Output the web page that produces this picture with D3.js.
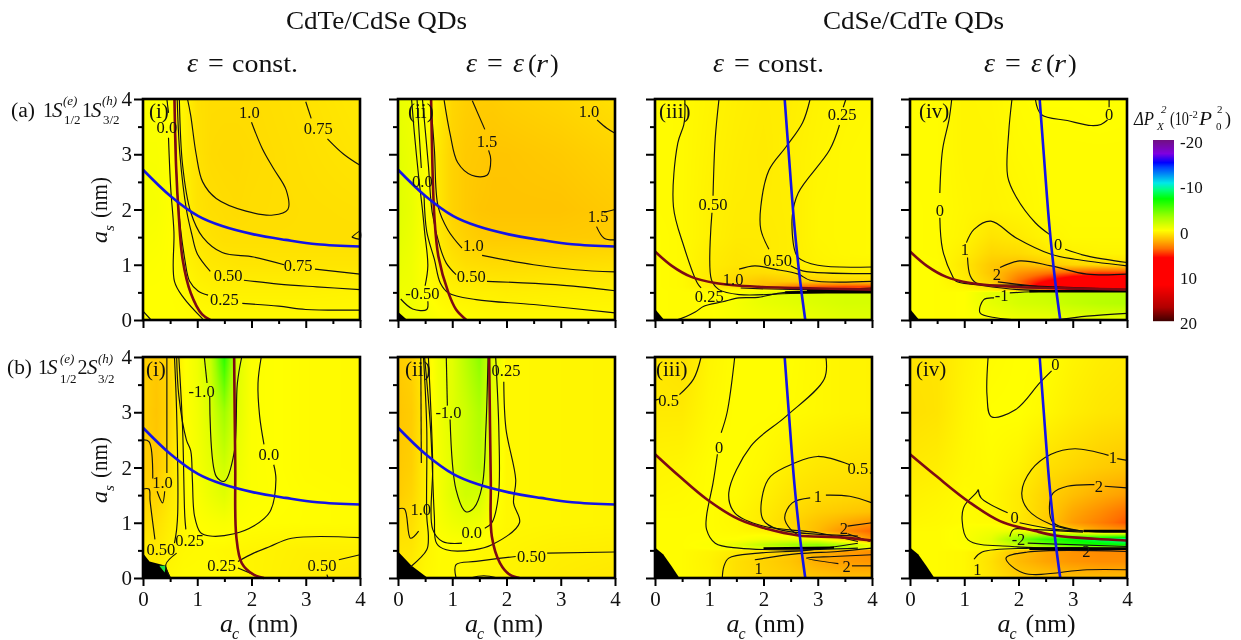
<!DOCTYPE html>
<html><head><meta charset="utf-8">
<script src="https://cdnjs.cloudflare.com/ajax/libs/d3/7.8.5/d3.min.js"></script>
<style>
html,body{margin:0;padding:0;background:#fff;overflow:hidden}
#wrap{position:relative;width:1241px;height:640px;overflow:hidden}
canvas,svg{position:absolute;left:0;top:0}
text{font-family:"Liberation Serif","Times New Roman",serif;fill:#111}
</style></head><body><div id="wrap"></div>
<script>
// ---------- colour scale ----------
const colorValues=[-20,-17,-15,-14,-10.5,-9,-7,-3,-2,-1,0,1,2,4,6,12,17,20];
const colorStops=["#701080","#8000e0","#0000ff","#0040ff","#00e8e8","#00ff80","#00ff00","#a0ff00","#c0ff00","#e0ff00","#ffff00","#ffdd00","#ffbb00","#ff7000","#ff0000","#ff0000","#b00000","#400000"];
const colorbarTicks=[-20,-10,0,10,20];

// ---------- field grids (rows run from a_s = 4 down to a_s = 0) ----------
const gridXA=[0,.25,.5,.75,1,1.25,1.5,1.75,2,3,4];
const gridYA=[4,3,2,1.5,1,.5,0];
const gridXB=[0,.5,1,1.5,2,2.5,3,3.5,4];
const gridYB=[4,3,2,1.5,1.2,1,.85,.7,.6,.53,.5,.47,.3,0];

const fieldAi=[
[-.1,-.1,-.05,.3,.9,1,1,1,1,.85,.65],
[-.2,-.2,-.05,.35,.85,1.05,1.1,1.1,1.05,.9,.75],
[-.3,-.25,-.05,.4,.8,.95,1,1.05,1,.95,.9],
[-.2,-.15,0,.4,.7,.85,.95,.95,.95,.95,.95],
[-.1,-.05,0,.3,.5,.65,.7,.75,.75,.75,.75],
[0,0,0,.1,.3,.35,.4,.4,.4,.4,.35],
[.02,0,0,0,.05,.1,.12,.15,.15,.15,.15]];
const fieldAii=[
[-.7,-.5,-.2,.5,1.2,1.4,1.5,1.5,1.4,1.2,.9],
[-.9,-.6,-.1,.7,1.3,1.55,1.6,1.7,1.7,1.55,1.3],
[-1,-.7,-.1,.7,1.3,1.55,1.7,1.75,1.75,1.75,1.55],
[-.9,-.6,-.1,.6,1.1,1.35,1.5,1.55,1.55,1.55,1.5],
[-.7,-.5,0,.45,.75,.95,1,1.05,1.05,1,.9],
[-.5,-.45,-.05,.2,.35,.4,.45,.45,.5,.45,.4],
[-.5,-.4,-.3,-.1,0,.05,.1,.15,.15,.15,.12]];
const fieldBi=[
[1.3,1.6,1.1,.1,-.5,-1.8,-6,-1,-.1,.1,.15],
[1.3,1.7,1.2,.1,-.4,-1.2,-3,-.9,-.1,.1,.15],
[1.4,1.6,.9,.1,-.3,-.8,-1.5,-.5,-.1,.1,.15],
[1.3,1.3,.7,.15,-.15,-.6,-1,-.3,-.1,.05,.1],
[1,.9,.5,.2,0,-.1,-.2,-.05,0,.05,.1],
[.5,.6,.35,.2,.15,.15,.2,.25,.3,.45,.45],
[.5,.5,.2,.1,.1,.1,.15,.2,.3,.5,.7]];
const fieldBii=[
[1.5,1.3,.5,-.5,-.9,-2.2,-3.5,-1,.2,.25,.3],
[1.7,1.5,.6,-.4,-1,-1.6,-2.5,-.8,.2,.25,.3],
[1.6,1.4,.5,-.3,-.9,-1.6,-2.2,-.5,.2,.25,.3],
[1.5,1.2,.5,-.3,-1,-1.5,-1.4,-.2,.2,.25,.3],
[1,.95,.4,-.2,-.5,-.7,-.5,0,.2,.25,.3],
[.75,.7,.3,.1,.1,.1,.2,.25,.3,.45,.5],
[.6,.5,.2,.1,.15,.2,.25,.3,.35,.55,.7]];
const fieldAiii=[
[.1,.15,.3,.45,.55,.5,.35,.25,.2],
[.1,.15,.35,.5,.6,.45,.3,.2,.15],
[.1,.15,.4,.55,.55,.5,.25,.2,.15],
[.05,.15,.4,.6,.6,.5,.25,.2,.15],
[.05,.15,.5,.7,.6,.5,.3,.2,.15],
[.05,.15,.55,.75,.7,.5,.35,.3,.3],
[.05,.15,.6,.95,1,.8,.7,.55,.5],
[.05,.15,.6,1.2,1.7,1.5,1.4,1.2,1.1],
[.05,.15,.5,1,2,3.5,4.5,5,5],
[.05,.1,.2,.1,-.1,-.3,1,3,4],
[.05,.1,.1,0,-.6,-.8,-.9,-1,-1.1],
[.05,.1,.05,-.1,-.8,-1,-1.2,-1.3,-1.3],
[.05,.1,.05,-.3,-.7,-.9,-1.1,-1.3,-1.3],
[.05,.1,.05,-.2,-.3,-.4,-.7,-.9,-1]];
const fieldAiv=[
[.05,.1,.3,.25,.1,0,0,-.05,0],
[.1,.1,.3,.3,.15,.1,.1,.1,.1],
[.05,.1,.25,.35,.25,.1,.1,.1,.1],
[.05,.1,.3,.8,.6,.3,.15,.15,.15],
[.05,.1,.5,1.2,1.1,.7,.4,.3,.3],
[0,.05,.7,1.6,1.9,1.6,1.2,1,.9],
[0,.05,.6,1.7,3,3.8,4.5,5,5],
[0,.05,.5,1.4,4,6,8,9,9],
[0,.05,.3,1,3.5,8,10,11,11],
[0,.05,.1,.3,1,2,5,9,10],
[0,.05,0,-.8,-1.3,-1.6,-1.8,-2,-2.2],
[0,.05,0,-.9,-1.4,-1.7,-2,-2.2,-2.4],
[0,.05,0,-.8,-1.3,-1.5,-1.9,-2.2,-2.4],
[0,.05,0,-.2,-.5,-.6,-.7,-.8,-.7]];
const fieldBiii=[
[.7,.9,.3,.05,.05,.05,.2,.3,.35],
[.6,.6,.2,.05,.05,.1,.2,.3,.35],
[.3,.25,.05,.05,.2,.5,.7,.8,.9],
[.2,.15,.05,.1,.4,.8,1,1.1,1.2],
[.1,.1,.05,.2,.55,1,1.4,1.6,1.8],
[.05,.05,.05,.2,.6,1.2,1.8,2.4,3],
[.05,.05,.05,.15,.4,1,2,3.2,4.2],
[.05,.05,0,0,-.4,-.6,-.2,1.2,3],
[.05,.05,-.1,-.8,-2,-3,-3.5,-2.2,-.5],
[.05,.05,0,-.3,-1,-1.5,-2.5,-2,0],
[.05,.1,.2,.4,.8,1.2,1.6,2.4,3],
[.05,.1,.3,.6,1,1.5,2.2,2.8,3.2],
[.05,.1,.35,.9,1.3,1.7,2.4,2.8,3],
[.05,.1,.3,.9,1.2,1.4,1.7,1.9,1.9]];
const fieldBiv=[
[.8,.8,.4,.1,0,0,.3,.5,.6],
[.9,.8,.3,0,-.02,.2,.5,.7,.8],
[.6,.5,.2,.1,.35,.9,1.2,1.5,1.7],
[.4,.3,.1,.2,.6,1.3,1.9,2.4,2.8],
[.3,.2,.05,.2,.6,1.4,2.5,3.2,4],
[.2,.15,.05,.1,.6,1.5,2.8,3.6,4.5],
[.1,.1,-.1,-.4,-.6,0,1.5,2.5,3],
[.1,.1,-.1,-.8,-3.5,-6,-7,-8.5,-10],
[.1,.1,-.05,-.5,-2,-4,-6,-6.5,-7],
[.1,.1,0,-.2,-.5,-1,-1,-1,-1],
[.1,.1,.1,.4,1.5,2.4,3,3.2,3.2],
[.1,.1,.2,.7,1.8,2.6,3.1,3.3,3.3],
[.1,.1,.2,.9,2,2.6,3,3.2,3.2],
[.1,.1,.2,.8,1.4,1.6,1.8,1.9,1.9]];

// ---------- blue and dark red lines ----------
const blueCdTe=[[0,2.72],[.51,2.24],[1.02,1.88],[1.46,1.7],[2.04,1.55],[2.63,1.45],[3.21,1.37],[4,1.33]];
const blueCdSe=[[2.39,4],[2.46,3.08],[2.57,1.7],[2.68,.67],[2.77,0]];
const redAi=[[.58,4],[.61,2.78],[.66,1.88],[.73,1.1],[.88,.49],[1.09,.1],[1.24,0]];
const redAii=[[.61,4],[.635,2.78],[.67,1.88],[.745,1.15],[.93,.49],[1.07,.19],[1.26,0]];
const redAiii=[[0,1.24],[.31,.98],[.67,.78],[1.11,.67],[1.91,.6],[2.64,.58],[4,.55]];
const redBi=[[1.68,4],[1.7,2.08],[1.72,.75],[1.82,.27],[2.04,.06],[2.23,0]];
const redBii=[[1.68,4],[1.71,1.78],[1.73,.75],[1.88,.27],[2.06,.06],[2.24,0]];
const redBiii=[[0,2.24],[.45,1.84],[.96,1.42],[1.55,1.06],[2.06,.89],[2.64,.77],[3.37,.74],[4,.68]];
const redBiv=[[0,2.24],[.49,1.84],[1.07,1.39],[1.66,1.03],[2.31,.85],[2.68,.77],[3.4,.71],[4,.68]];

// ---------- black corners ----------
const cornerAii=[[0,0],[0,.15],[.17,0]];
const cornerAiii=[[0,0],[0,.2],[.17,0]];
const cornerBi=[[0,0],[0,.45],[.12,.3],[.42,.22],[.51,0]];
const cornerBii=[[0,0],[0,.48],[.25,.22],[.55,0]];
const cornerBiii=[[0,0],[0,.55],[.15,.43],[.3,.22],[.45,0]];
const speckBi=[[.3,.22],[.42,.22],[.4,.1]];

// ---------- contour lines ----------
const contoursAi=[
[[.44,4],[.47,3.75]],[[.47,3.3],[.51,2.4],[.57,1.6],[.58,.7],[.75,.4],[1.1,.02]],
[[.58,4],[.6,3.3],[.64,2.2],[.77,1.1],[.86,.7],[1.02,.52],[1.2,.45]],[[1.83,.3],[2.5,.25],[3,.19],[4,.18]],
[[.63,4],[.68,3],[.8,2],[.9,1.55],[1,1.2],[1.24,.88]],[[1.86,.72],[2.5,.65],[3.2,.6],[4,.55]],
[[.67,4],[.73,2.8],[.88,1.95],[1.1,1.5],[1.46,1.22],[2.04,1.14],[2.6,1]],[[3.17,.92],[4,.83]],
[[.82,4],[.88,3.7],[.98,3],[1.1,2.5],[1.35,2.2],[1.9,1.97],[2.4,1.9],[2.67,2],[2.64,2.35],[2.4,2.75],[2.2,3.1],[2,3.58]],
[[3,3.95],[3.1,3.65]],[[3.4,3.28],[3.7,3],[4,2.8]],
[[3.85,1.5],[4,1.6],[4,1.47],[3.85,1.5]],[[0,.16],[.15,0]]];
const labelsAi=[["0.0",.44,3.48],["1.0",1.96,3.75],["0.75",3.23,3.46],["0.50",1.57,.81],["0.75",2.86,.98],["0.25",1.5,.37]];

const contoursAii=[
[[.25,4],[.3,3.4],[.38,2.6],[.45,2],[.49,1.6],[.55,.98],[.5,.62]],
[[.05,.38],[.27,.2],[.53,.19],[.55,.34]],
[[.35,4],[.43,2.75]],[[.48,2.25],[.53,1.6],[.67,1.1],[.78,.67],[.93,.49],[1.44,.37],[2.5,.28],[4,.13]],
[[.45,4],[.56,2.8],[.63,1.95],[.78,1.3],[.89,1.03],[1.07,.82]],[[1.64,.7],[2.9,.64],[4,.53]],
[[.6,4],[.67,3.1],[.74,2.05],[.92,1.63],[1.18,1.3]],[[1.55,1.17],[2.5,1],[3.27,.91],[4,.87]],
[[.85,3.98],[.96,3.37],[1.1,2.85],[1.36,2.62],[1.64,2.62],[1.71,2.9],[1.67,3.07]],[[1.6,3.45],[1.37,3.97]],
[[3.67,3.62],[3.85,3.47],[4,3.38]],[[3.8,1.95],[4,2]],[[3.66,1.69],[3.8,1.48],[4,1.45]]];
const labelsAii=[["0.0",.45,2.51],["1.5",1.64,3.23],["1.0",3.52,3.78],["1.5",3.69,1.87],["1.0",1.39,1.34],["0.50",1.35,.78],["-0.50",.45,.48]];

const contoursAiii=[
[[.55,4],[.55,3.7],[.53,3.53],[.42,3.2],[.34,2.05],[.53,1.34],[.78,.67],[.85,.58]],
[[.23,0],[.42,.01],[.75,.15],[.9,.25],[1.25,.33],[1.55,.4],[1.9,.41],[2.4,.5],[4,.5]],
[[1.18,4],[1.11,3.28],[1.07,2.25]],[[1.05,1.94],[1.04,.73],[1.18,.55],[1.55,.46],[2.5,.48],[4,.52]],
[[2.86,4],[2.72,3.57],[2.42,3.14],[2.1,2.71],[1.95,2.05],[1.95,1.64],[2.1,1.28]],
[[2.5,.98],[2.72,.89],[4,.84]],
[[3.52,4],[3.47,3.85]],[[3.4,3.53],[3.22,3.08],[2.64,2.3],[2.53,1.88],[2.57,1.28],[2.64,1.13],[3,.99],[4,.96]],
[[1.55,.92],[1.84,.98],[2.2,.92],[2.64,.83],[2.86,.72],[4,.7]],
[[1.58,.58],[2.64,.55],[4,.58]]];
const labelsAiii=[["0.25",3.45,3.72],["0.50",1.07,2.09],["0.50",2.26,1.08],["1.0",1.44,.73],["0.25",1,.42]];
const bandAiii=[[[2.4,.5],[4,.5]],[[2.8,.53],[4,.53]]];

const contoursAiv=[
[[.77,4],[.72,3.63],[.6,3.08],[.55,2.3]],[[.55,1.85],[.6,1.28],[.78,.8],[.85,.7],[1.22,.64],[2,.55],[4,.53]],
[[1.88,4],[1.82,3.4],[1.8,2.6],[1.95,2.24],[2.31,1.76],[2.57,1.55]],[[2.86,1.28],[3.26,1.16],[4,1.04]],
[[2.31,4],[2.42,3.72],[2.9,3.61],[3.34,3.52],[3.52,3.54],[3.64,3.62]],[[3.67,4],[3.67,3.85]],
[[1.04,1.4],[1.18,1.64],[1.49,1.79],[1.95,1.49],[2.6,1.19],[3.04,1.1],[4,.98]],
[[1.06,1.13],[1.11,.8],[1.22,.67],[1.95,.63],[4,.55]],
[[1.66,.95],[2.02,1.07],[2.6,.98],[3.26,.83],[4,.83]],
[[1.62,.69],[2.68,.58],[4,.55]],
[[1.84,.49],[2.5,.52],[4,.52]],
[[1.55,.4],[1.36,.37],[1.29,.13],[1.58,.04],[2.68,.01],[3.26,.07],[4,.12]]];
const labelsAiv=[["0",3.67,3.72],["0",.55,1.98],["0",2.73,1.37],["1",1.01,1.28],["2",1.6,.83],["-1",1.69,.45]];
const bandAiv=[[[2.2,.52],[4,.52]]];

const contoursBi=[
[[0,2.5],[.11,2.47],[.18,1.8]],[[0,1.61],[.11,1.61],[.13,1.4],[.22,.7]],[[.26,1.57],[.36,1.36],[.4,1.57]],
[[.44,4],[.44,1.9]],
[[.58,4],[.62,3],[.64,1.18],[.62,.88],[.58,.63]],[[.62,.45],[.42,.24],[.51,0]],
[[.66,4],[.73,2.7],[.77,1.12],[.79,.88]],
[[.62,4],[.66,3.3],[.8,2.5],[.88,2.3],[.91,1.78],[.95,1.12],[1.06,.82],[1.24,.76],[1.68,.8],[2.04,.94],[2.34,1.2],[2.45,1.78],[2.41,2.05]],
[[2.23,2.42],[2.15,2.93],[2.12,3.53],[2.18,4]],
[[1.13,4],[1.18,3.53]],[[1.23,3.29],[1.35,1.84],[1.5,1.75],[1.68,2.27],[1.74,3.53],[1.82,4]],
[[1.75,.3],[2.04,.45],[2.34,.57],[2.74,.72],[4,.73]],[[1.75,.18],[2.19,0]],
[[3.39,.06],[3.41,0]],[[3.61,.33],[4,.42]]];
const labelsBi=[["-1.0",1.08,3.37],["0.0",2.32,2.24],["1.0",.36,1.72],["0.50",.33,.51],["0.25",.86,.68],["0.25",1.45,.23],["0.50",3.3,.23]];

const contoursBii=[
[[.42,4],[.43,2.08]],
[[.47,4],[.53,2.7],[.53,1.12],[.56,.75],[.53,.51],[.23,.2]],
[[.49,4],[.6,2.7],[.67,1.12],[.71,.63],[.89,.51],[1.4,.51],[1.73,.6],[2.24,1],[2.13,1.36],[2.17,1.78],[1.99,2.7],[1.95,3.55]],
[[.56,4],[.64,2.08],[.64,.88],[.82,.66],[1.18,.63]],[[1.6,.9],[1.73,1],[1.85,1.48],[1.86,2.63],[1.8,4]],
[[.89,4],[.91,3.12]],[[.96,2.87],[1.07,1.6],[1.25,1.2],[1.4,1.27],[1.55,1.66],[1.62,2.7],[1.66,4]],
[[0,1.25],[.12,1.25],[.23,.72],[.38,.85]],
[[1.07,0],[1.07,.24],[1.44,.3],[2.17,.39]],[[2.75,.45],[4,.47]],
[[1.33,0],[1.58,.04],[1.84,0]]];
const labelsBii=[["0.25",1.99,3.75],["-1.0",.93,3],["1.0",.42,1.24],["0.0",1.36,.83],["0.50",2.46,.39]];

const contoursBiii=[
[[.85,4],[.71,3.6],[.45,3.32]],[[.01,3.22],[.08,3.24]],
[[1.47,4],[1.33,3],[1.22,2.63]],[[1.15,2.24],[1.07,1.72],[.95,1.12],[.95,.88],[1.11,.63],[1.55,.54],[2.5,.51],[3.74,.54]],
[[3.15,4],[3.12,3.6],[2.42,2.93],[1.77,2.39],[1.36,1.54],[1.47,1.18],[1.99,.94],[3,.82],[3.74,.66]],
[[3.96,1.9],[4,1.9]],[[3.59,2.05],[3,2.2],[2.57,2.08],[2.13,1.84],[1.99,1.54],[1.99,1.06],[2.28,.88],[3.74,.76]],
[[2.86,1.45],[2.53,1.36],[2.39,1.09],[2.5,.88],[2.68,.76]],[[3.15,1.5],[3.59,1.48],[4,1.36]],
[[3.55,.94],[4,1]],[[3.55,.8],[3.96,.66]],
[[1.24,0],[1.27,.21],[1.36,.36],[1.91,.45],[2.79,.5],[3.74,.63]],
[[1.84,.33],[2.64,.44],[3.37,.48],[4,.54]],
[[4,.42],[3.3,.39],[2.79,.36],[3.38,.26]],[[3.63,.22],[4,.22]]];
const labelsBiii=[["0.5",.25,3.22],["0",1.18,2.36],["0.5",3.74,1.98],["1",3,1.48],["2",3.48,.9],["2",3.53,.21],["1",1.91,.18]];
const bandBiii=[[[2,.535],[3.3,.55]]];

const contoursBiv=[
[[1.44,4],[1.42,3.3],[1.5,2.92],[1.95,3.05],[2.39,3.53],[2.61,3.75]],
[[3.66,2.22],[3.04,2.34],[2.6,2.24],[2.24,1.96],[2.06,1.54],[2.17,1.24],[2.6,.97],[3.18,.85],[4,.83]],[[3.82,2.16],[4,2.13]],
[[3.4,1.69],[2.9,1.66],[2.64,1.54],[2.57,1.3],[2.64,1],[3.18,.85]],[[3.59,1.66],[4,1.63]],
[[1.26,1.6],[1.22,1.54],[1,1.3],[.96,1.06],[1.07,.69],[1.88,.57],[3.19,.54]],
[[1.26,1.6],[1.31,1.45],[1.8,1.18]],[[2.02,1],[2.68,.88],[3.19,.85]],
[[1.84,.75],[1.91,.88],[2.17,.88],[3.19,.83]],[[2.17,.63],[4,.57]],
[[1.18,.34],[1.33,.47],[2.24,.54],[4,.54]],
[[4,.15],[3.26,.15],[2.09,.09],[1.77,.36],[2.17,.47],[4,.48]]];
const labelsBiv=[["0",2.68,3.87],["1",3.74,2.18],["2",3.48,1.65],["0",1.93,1.09],["-2",2,.69],["2",3.25,.48],["1",1.24,.15]];
const bandBiv=[[[3.2,.85],[4,.85]],[[2.2,.53],[4,.53]]];

// ---------- layout ----------
const axisDomain=[0,4], majorTicks=[0,1,2,3,4], minorTicks=[.5,1.5,2.5,3.5];
const colX=[143,398,655,910], rowY=[99,357], panelW=217, panelH=221;
const panels=[
 {row:0,col:0,tag:"(i)",tagDx:6,gx:gridXA,gy:gridYA,field:fieldAi,contours:contoursAi,labels:labelsAi,band:[],blue:blueCdTe,red:redAi,corner:null},
 {row:0,col:1,tag:"(ii)",tagDx:10,gx:gridXA,gy:gridYA,field:fieldAii,contours:contoursAii,labels:labelsAii,band:[],blue:blueCdTe,red:redAii,corner:cornerAii},
 {row:0,col:2,tag:"(iii)",tagDx:4,gx:gridXB,gy:gridYB,field:fieldAiii,contours:contoursAiii,labels:labelsAiii,band:bandAiii,blue:blueCdSe,red:redAiii,corner:cornerAiii},
 {row:0,col:3,tag:"(iv)",tagDx:9,gx:gridXB,gy:gridYB,field:fieldAiv,contours:contoursAiv,labels:labelsAiv,band:bandAiv,blue:blueCdSe,red:redAiii,corner:cornerAiii},
 {row:1,col:0,tag:"(i)",tagDx:3,gx:gridXA,gy:gridYA,field:fieldBi,contours:contoursBi,labels:labelsBi,band:[],blue:blueCdTe,red:redBi,corner:cornerBi,speck:speckBi},
 {row:1,col:1,tag:"(ii)",tagDx:7,gx:gridXA,gy:gridYA,field:fieldBii,contours:contoursBii,labels:labelsBii,band:[],blue:blueCdTe,red:redBii,corner:cornerBii},
 {row:1,col:2,tag:"(iii)",tagDx:1,gx:gridXB,gy:gridYB,field:fieldBiii,contours:contoursBiii,labels:labelsBiii,band:bandBiii,blue:blueCdSe,red:redBiii,corner:cornerBiii},
 {row:1,col:3,tag:"(iv)",tagDx:6,gx:gridXB,gy:gridYB,field:fieldBiv,contours:contoursBiv,labels:labelsBiv,band:bandBiv,blue:blueCdSe,red:redBiv,corner:cornerBiii}
];

const W=1241,H=640;
const wrap=d3.select("#wrap");
const canvas=wrap.append("canvas").attr("width",W).attr("height",H);
const ctx=canvas.node().getContext("2d");
const svg=wrap.append("svg").attr("width",W).attr("height",H);
const color=d3.scaleLinear().domain(colorValues).range(colorStops).interpolate(d3.interpolateRgb).clamp(true);

function sample(p,xv,yv){
  const gx=p.gx, gyAsc=p.gy.slice().reverse(), n=gyAsc.length;
  let i=Math.min(Math.max(d3.bisectRight(gx,xv)-1,0),gx.length-2);
  let j=Math.min(Math.max(d3.bisectRight(gyAsc,yv)-1,0),n-2);
  const tx=(xv-gx[i])/(gx[i+1]-gx[i]), ty=(yv-gyAsc[j])/(gyAsc[j+1]-gyAsc[j]);
  const r0=p.field[n-1-j], r1=p.field[n-2-j];
  const a=r0[i]*(1-tx)+r0[i+1]*tx, b=r1[i]*(1-tx)+r1[i+1]*tx;
  return a*(1-ty)+b*ty;
}
const lineGen=(x,y)=>d3.line().x(d=>x(d[0])).y(d=>y(d[1]));

panels.forEach(p=>{
  const x0=colX[p.col], y0=rowY[p.row];
  const x=d3.scaleLinear().domain(axisDomain).range([x0,x0+panelW]);
  const y=d3.scaleLinear().domain(axisDomain).range([y0+panelH,y0]);
  // heat field
  const img=ctx.createImageData(panelW,panelH);
  for(let py=0;py<panelH;py++)for(let px=0;px<panelW;px++){
    const c=d3.rgb(color(sample(p,x.invert(x0+px+.5),y.invert(y0+py+.5))));
    const k=(py*panelW+px)*4;
    img.data[k]=c.r;img.data[k+1]=c.g;img.data[k+2]=c.b;img.data[k+3]=255;
  }
  ctx.putImageData(img,x0,y0);

  const g=svg.append("g");
  const line=lineGen(x,y);
  const curve=lineGen(x,y).curve(d3.curveCatmullRom.alpha(.5));
  if(p.corner) g.append("path").attr("d",line(p.corner)+"Z").attr("fill","#000");
  if(p.speck) g.append("path").attr("d",line(p.speck)+"Z").attr("fill","#20e040");
  g.selectAll("path.contour").data(p.contours).join("path").attr("class","contour")
    .attr("d",curve).attr("fill","none").attr("stroke","#111").attr("stroke-width",1.15);
  g.selectAll("path.band").data(p.band).join("path").attr("class","band")
    .attr("d",line).attr("fill","none").attr("stroke","#000").attr("stroke-width",2.4);
  g.append("path").attr("d",curve(p.red)).attr("fill","none").attr("stroke","#7d0a14").attr("stroke-width",2.6);
  g.append("path").attr("d",curve(p.blue)).attr("fill","none").attr("stroke","#1414e6").attr("stroke-width",2.6);
  g.selectAll("text.lab").data(p.labels).join("text").attr("class","lab")
    .attr("x",d=>x(d[1])).attr("y",d=>y(d[2])+5.5).attr("text-anchor","middle")
    .attr("font-size",16.5).text(d=>d[0]);
  g.append("text").attr("x",x0+p.tagDx).attr("y",y0+18.5).attr("font-size",21).text(p.tag);

  // axes
  const showX=p.row===1, showY=p.col===0;
  const bottomMajor=d3.axisBottom(x).tickValues(majorTicks).tickSize(8).tickPadding(5).tickFormat(showX?d3.format("d"):"");
  const bottomMinor=d3.axisBottom(x).tickValues(minorTicks).tickSize(4).tickFormat("");
  const leftMajor=d3.axisLeft(y).tickValues(majorTicks).tickSize(9).tickPadding(2).tickFormat(showY?d3.format("d"):"");
  const leftMinor=d3.axisLeft(y).tickValues(minorTicks).tickSize(5).tickFormat("");
  [[bottomMajor,`translate(0,${y0+panelH})`,21],[bottomMinor,`translate(0,${y0+panelH})`,10],
   [leftMajor,`translate(${x0},0)`,21],[leftMinor,`translate(${x0},0)`,10]].forEach(([ax,tr,fs])=>{
    const a=g.append("g").attr("transform",tr).call(ax);
    a.select(".domain").remove();
    a.selectAll("line").attr("stroke","#000").attr("stroke-width",2);
    a.selectAll("text").attr("font-size",fs).attr("font-family",'"Liberation Serif",serif').attr("fill","#111");
  });
  g.append("rect").attr("x",x0).attr("y",y0).attr("width",panelW).attr("height",panelH)
    .attr("fill","none").attr("stroke","#000").attr("stroke-width",2.6);
});

// ---------- text ----------
function rich(parts,x,y,parent){
  // parts: [text,size,italic,xoffset,yoffset,length]
  const g=(parent||svg).append("g").attr("transform",`translate(${x},${y})`);
  g.selectAll("text").data(parts).join("text")
   .attr("x",d=>d[3]).attr("y",d=>d[4]).attr("font-size",d=>d[1])
   .attr("font-style",d=>d[2]?"italic":"normal")
   .attr("textLength",d=>d[5]||null).attr("lengthAdjust",d=>d[5]?"spacingAndGlyphs":null)
   .text(d=>d[0]);
  return g;
}
const titles=[["CdTe/CdSe QDs",286],["CdSe/CdTe QDs",823]];
titles.forEach(t=>rich([[t[0],25,false,0,0,181]],t[1],29));
const epsHeads=[[187,"const."],[466,"eps"],[713,"const."],[984,"eps"]];
epsHeads.forEach(([hx,kind])=>{
  const parts=[["ε",28,true,0,0],["=",28,false,21,0]];
  if(kind==="const.") parts.push(["const.",26,false,45,0,66]);
  else parts.push(["ε",28,true,47,0],["(",26,false,62,0],["r",26,true,70,0,12],[")",26,false,84,0]);
  rich(parts,hx,72);
});
rich([["(a)",20,false,0,0,24],["1",20,false,32,0,10],["S",21,true,41,0],["(e)",13,true,52,-12],["1/2",13,false,53,7],["1",20,false,71,0,10],["S",21,true,80,0],["(h)",13,true,91,-12],["3/2",13,false,92,7]],11,117);
rich([["(b)",20,false,0,0,25],["1",20,false,31,0,10],["S",21,true,40,0],["(e)",13,true,53,-11],["1/2",13,false,53,9],["2",20,false,70.5,0,10],["S",21,true,80,0],["(h)",13,true,91,-11],["3/2",13,false,91,9]],7,374);

// axis titles
[252,497,758.5,1029.6].forEach(cx=>{
  rich([["a",26,true,-32,0],["c",16,true,-20,7],["(nm)",25,false,-4,0,50]],cx,632);
});
[[107,210],[107,470]].forEach(([bx,cy])=>{
  const g=svg.append("g").attr("transform",`translate(${bx},${cy}) rotate(-90)`);
  rich([["a",24,true,-33,0],["s",15,true,-21,7],["(nm)",23,false,-8,0,41]],0,0,g);
});

// ---------- colour bar ----------
const barX=1153,barW=21,barTop=140,barBottom=321;
const barScale=d3.scaleLinear().domain([-20,20]).range([barTop,barBottom]);
svg.append("g").selectAll("rect").data(d3.range(barTop,barBottom)).join("rect")
  .attr("x",barX).attr("y",d=>d).attr("width",barW).attr("height",1.2)
  .attr("fill",d=>color(barScale.invert(d+.5)));
svg.selectAll("text.cb").data(colorbarTicks).join("text").attr("class","cb")
  .attr("x",1180).attr("y",d=>barScale(d)+8).attr("font-size",17).text(d=>d);
rich([["ΔP",18,true,0,0,20],["2",11,true,27,-12],["X",11,true,23,5],["(10",18,false,36,0,19],["-2",11,false,55,-7,9],["P",18,true,65,0,13],["2",11,false,83,-12],["0",11,false,82,5],[")",18,false,91,0]],1134,125);
</script></body></html>
